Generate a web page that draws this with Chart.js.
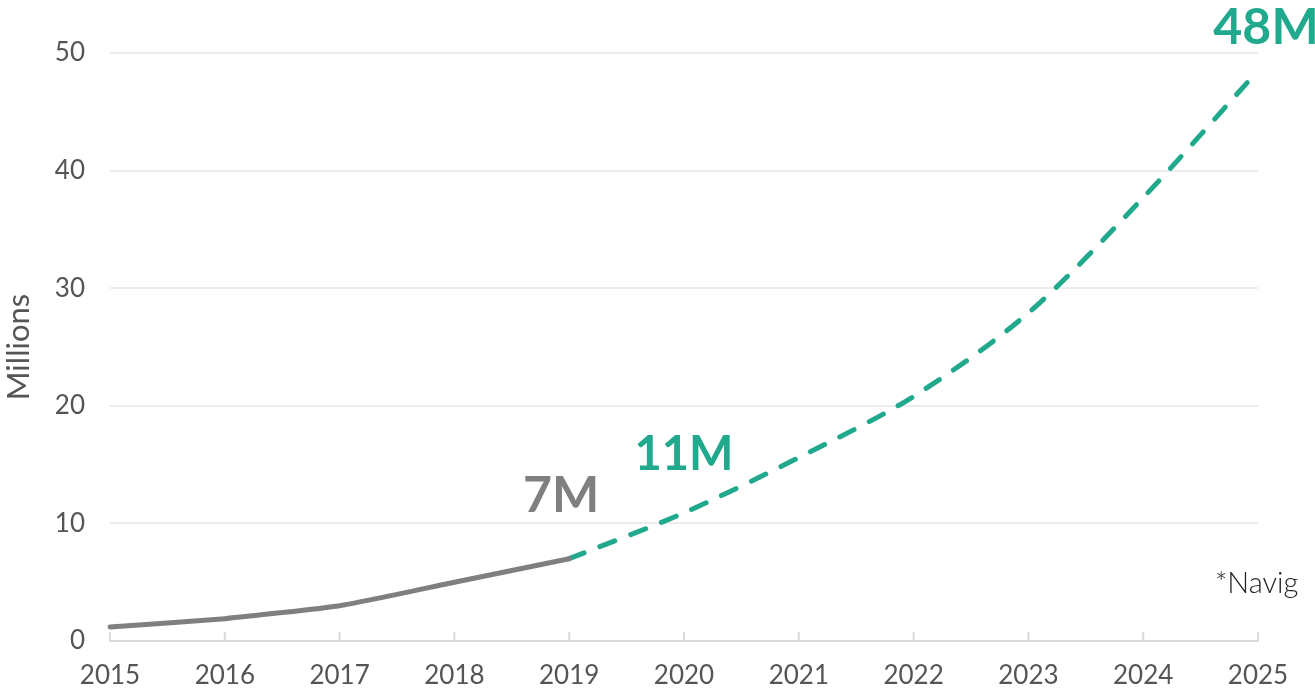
<!DOCTYPE html>
<html>
<head>
<meta charset="utf-8">
<script src="https://cdn.jsdelivr.net/npm/chart.js@4/dist/chart.umd.min.js"></script>
<style>
    html, body { margin: 0; padding: 0; background: #fff; overflow: hidden; }
    #wrap { width: 1315px; height: 691px; position: relative; }
</style>
</head>
<body>
<div id="wrap"><canvas id="growthChart" width="1315" height="691"></canvas></div>
<script>
(function() {
    'use strict';

    // ===== DATA =====
    const years = ['2015', '2016', '2017', '2018', '2019', '2020', '2021', '2022', '2023', '2024', '2025'];
    const actualValues = [1.2, 1.9, 3.0, 5.0, 7.0, null, null, null, null, null, null];
    const projectedValues = [null, null, null, null, 7.0, 10.9, 15.6, 20.8, 27.9, 37.7, 48.5];
    const yTicks = [0, 10, 20, 30, 40, 50];
    const callouts = [
        { index: 4, text: '7M', color: '#7f7f7f', size: 50, dx: -8, dy: -47 },
        { index: 5, text: '11M', color: '#20a98d', size: 47, dx: 0, dy: -43 },
        { index: 10, text: '48M', color: '#20a98d', size: 50, dx: 8, dy: -27 }
    ];
    const footnote = '*Navig';

    const grey = '#7f7f7f';
    const teal = '#20a98d';
    const fontFamily = 'Lato, "Open Sans", sans-serif';

    // short tick marks pointing up from the x axis, plus the callout text
    const decorations = {
        id: 'decorations',
        afterDatasetsDraw(chart) {
            const ctx = chart.ctx;
            const x = chart.scales.x;
            const y = chart.scales.y;
            const area = chart.chartArea;

            ctx.save();
            ctx.strokeStyle = '#d9d9d9';
            ctx.lineWidth = 2;
            x.ticks.forEach((t, i) => {
                const px = x.getPixelForTick(i);
                ctx.beginPath();
                ctx.moveTo(px, area.bottom);
                ctx.lineTo(px, area.bottom - 9);
                ctx.stroke();
            });

            ctx.textAlign = 'center';
            ctx.textBaseline = 'alphabetic';
            callouts.forEach(c => {
                const v = actualValues[c.index] != null ? actualValues[c.index] : projectedValues[c.index];
                ctx.font = 'bold ' + c.size + 'px ' + fontFamily;
                ctx.fillStyle = c.color;
                ctx.fillText(c.text, x.getPixelForValue(c.index) + c.dx, y.getPixelForValue(v) + c.dy);
            });

            ctx.font = '300 29px ' + fontFamily;
            ctx.fillStyle = '#222';
            ctx.textAlign = 'left';
            ctx.fillText(footnote, area.right - 43, y.getPixelForValue(4.1));
            ctx.restore();
        }
    };

    new Chart(document.getElementById('growthChart'), {
        type: 'line',
        data: {
            labels: years,
            datasets: [{
                data: actualValues,
                borderColor: grey,
                borderWidth: 5,
                pointRadius: 0,
                tension: 0.15,
                borderCapStyle: 'round'
            }, {
                data: projectedValues,
                borderColor: teal,
                borderWidth: 5,
                borderDash: [16, 17],
                borderCapStyle: 'round',
                pointRadius: 0,
                tension: 0.3
            }]
        },
        options: {
            responsive: false,
            animation: false,
            layout: { padding: { top: 53, right: 57, left: 0, bottom: 0 } },
            plugins: {
                legend: { display: false },
                tooltip: { enabled: false }
            },
            scales: {
                x: {
                    grid: { display: false, drawTicks: false },
                    border: { color: '#d9d9d9', width: 2 },
                    ticks: {
                        color: '#555',
                        font: { family: fontFamily, size: 26 },
                        padding: 19,
                        maxRotation: 0
                    },
                    afterFit(scale) { scale.height = 50; }
                },
                y: {
                    min: 0,
                    max: 50,
                    afterBuildTicks(scale) { scale.ticks = yTicks.map(v => ({ value: v })); },
                    grid: {
                        color: (c) => c.tick && c.tick.value === 0 ? 'rgba(0,0,0,0)' : '#ececec',
                        lineWidth: 2,
                        drawTicks: false
                    },
                    border: { display: false },
                    ticks: {
                        color: '#555',
                        font: { family: fontFamily, size: 26 },
                        padding: 25
                    },
                    title: {
                        display: true,
                        text: 'Millions',
                        color: '#555',
                        font: { family: fontFamily, size: 31 },
                        padding: 0
                    },
                    afterFit(scale) { scale.width = 110; }
                }
            }
        },
        plugins: [decorations]
    });
})();
</script>
</body>
</html>
